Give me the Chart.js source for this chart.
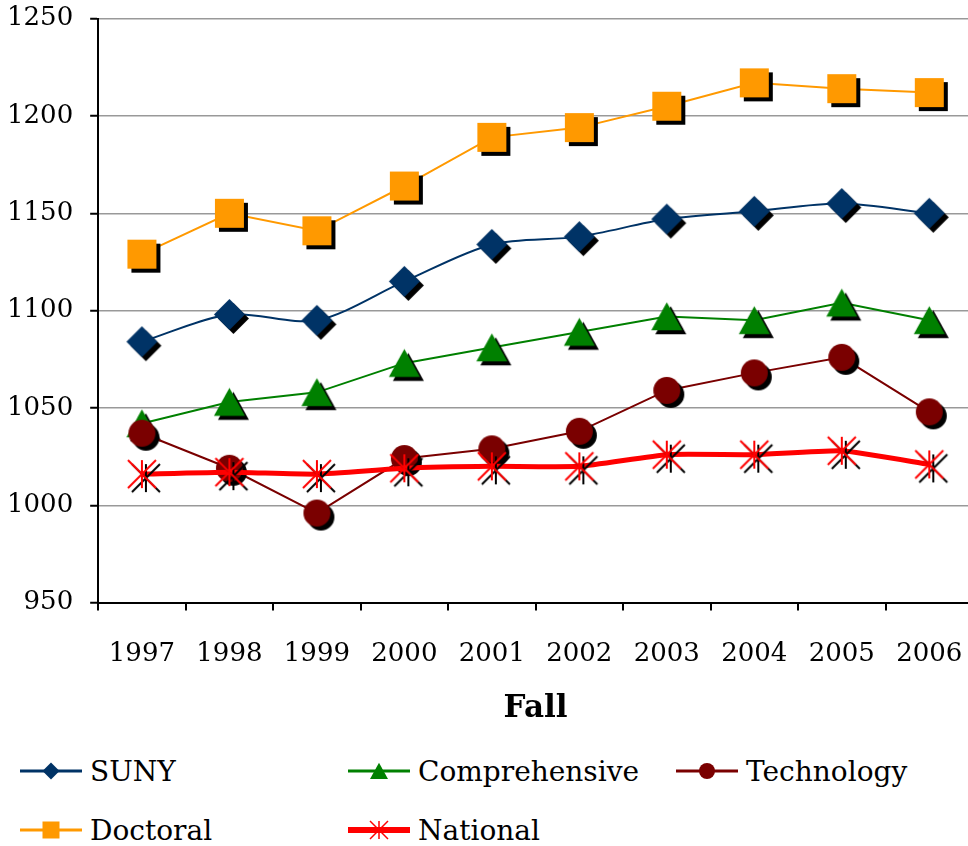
<!DOCTYPE html>
<html>
<head>
<meta charset="utf-8">
<script src="https://cdn.jsdelivr.net/npm/chart.js@4"></script>
<style>
  html, body { margin: 0; padding: 0; background: #fff; }
  #wrap { position: relative; width: 968px; height: 846px; overflow: hidden; }
  #chartBox { position: absolute; left: -14px; top: -14px; width: 1007px; height: 752px; }
  .leg { position: absolute; height: 40px; display: flex; align-items: center;
         font-family: 'DejaVu Serif', 'Liberation Serif', serif; font-size: 28px; color: #000; }
  .leg canvas { margin-right: 8px; }
</style>
</head>
<body>
<div id="wrap">
  <div id="chartBox"><canvas id="chart"></canvas></div>
  <div id="legend"></div>
</div>
<script>
// Fall enrollment-type index values
const years = ['1997', '1998', '1999', '2000', '2001', '2002', '2003', '2004', '2005', '2006'];
const suny          = [1084, 1098, 1095, 1115, 1134, 1138, 1147, 1151, 1155, 1150];
const comprehensive = [1042, 1053, 1058, 1073, 1081, 1089, 1097, 1095, 1104, 1095];
const technology    = [1037, 1019,  996, 1024, 1029, 1038, 1059, 1068, 1076, 1048];
const doctoral      = [1129, 1150, 1141, 1164, 1189, 1194, 1205, 1217, 1214, 1212];
const national      = [1016, 1017, 1016, 1019, 1020, 1020, 1026, 1026, 1028, 1021];
const yTicks = [950, 1000, 1050, 1100, 1150, 1200, 1250];

const FONT = "'DejaVu Serif', 'Liberation Serif', serif";

// draw one marker shape onto a 2d context
function drawShape(g, shape, x, y, size, color) {
    const h = size / 2;
    g.fillStyle = color;
    g.strokeStyle = color;
    g.beginPath();
    if (shape === 'diamond') {
        g.moveTo(x, y - h); g.lineTo(x + h, y); g.lineTo(x, y + h); g.lineTo(x - h, y);
        g.closePath(); g.fill();
    } else if (shape === 'square') {
        g.fillRect(x - h, y - h, size, size);
    } else if (shape === 'triangle') {
        g.moveTo(x, y - h * 0.92); g.lineTo(x + h, y + h * 0.88); g.lineTo(x - h, y + h * 0.88);
        g.closePath(); g.fill();
    } else if (shape === 'circle') {
        g.arc(x, y, h, 0, Math.PI * 2); g.fill();
    } else if (shape === 'star') {
        g.lineWidth = Math.max(1.5, size / 14);
        g.moveTo(x, y - h); g.lineTo(x, y + h);
        g.moveTo(x - h, y - h); g.lineTo(x + h, y + h);
        g.moveTo(x + h, y - h); g.lineTo(x - h, y + h);
        g.stroke();
    }
}

// marker image with a hard black drop shadow, centred on the data point
function markerCanvas(shape, color, size, shadow) {
    const off = shadow ? 4 : 0;
    const dim = Math.ceil(size + 2 * off + 4);
    const c = document.createElement('canvas');
    c.width = c.height = dim;
    const g = c.getContext('2d');
    const m = dim / 2;
    if (shadow) drawShape(g, shape, m + off, m + off, size, '#000');
    drawShape(g, shape, m, m, size, color);
    return c;
}

const series = [
    { label: 'SUNY', data: suny, color: '#003366', shape: 'diamond', size: 31, width: 2, tension: 0.3, order: 5 },
    { label: 'Comprehensive', data: comprehensive, color: '#008000', shape: 'triangle', size: 31, width: 2, tension: 0, order: 4 },
    { label: 'Technology', data: technology, color: '#7A0000', shape: 'circle', size: 27, width: 2, tension: 0, order: 3 },
    { label: 'Doctoral', data: doctoral, color: '#FF9900', shape: 'square', size: 29, width: 2, tension: 0, order: 2 },
    { label: 'National', data: national, color: '#FF0000', shape: 'star', size: 28, width: 5, tension: 0.15, order: 1 }
];

const datasets = series.map(s => ({
    label: s.label,
    data: s.data,
    borderColor: s.color,
    backgroundColor: s.color,
    borderWidth: s.width,
    tension: s.tension,
    order: s.order,
    pointStyle: markerCanvas(s.shape, s.color, s.size, true),
    pointRadius: 15,
    pointHoverRadius: 15
}));

new Chart(document.getElementById('chart'), {
    type: 'line',
    data: { labels: years, datasets: datasets },
    options: {
        responsive: true,
        maintainAspectRatio: false,
        animation: false,
        layout: { padding: { left: 4, right: 0, top: 0, bottom: 6 } },
        plugins: {
            legend: { display: false },
            tooltip: { enabled: false }
        },
        scales: {
            x: {
                offset: true,
                grid: { offset: true, drawOnChartArea: false, drawTicks: true, tickLength: 8, color: '#000', lineWidth: 2 },
                border: { color: '#000', width: 2 },
                ticks: { color: '#000', font: { family: FONT, size: 26 }, padding: 28, maxRotation: 0 },
                title: { display: true, text: 'Fall', color: '#000', font: { family: FONT, size: 31, weight: 'bold' }, padding: { top: -7, bottom: 4 } }
            },
            y: {
                min: yTicks[0],
                max: yTicks[yTicks.length - 1],
                afterBuildTicks: axis => { axis.ticks = yTicks.map(v => ({ value: v })); },
                grid: { color: '#999', lineWidth: 1.5, tickLength: 8, tickColor: '#000', tickWidth: 2 },
                border: { color: '#000', width: 2 },
                ticks: { color: '#000', font: { family: FONT, size: 26 }, padding: 17, callback: v => String(v) }
            }
        }
    }
});

// HTML legend, Excel style: short line with the marker in the middle
const legendPos = [[20, 751], [348, 751], [676, 751], [20, 810], [348, 810]];
const legendSizes = { diamond: 17, triangle: 18, circle: 16, square: 17, star: 18 };
const legendEl = document.getElementById('legend');
series.forEach((s, i) => {
    const item = document.createElement('div');
    item.className = 'leg';
    item.style.left = legendPos[i][0] + 'px';
    item.style.top = legendPos[i][1] + 'px';
    const c = document.createElement('canvas');
    c.width = 62; c.height = 40;
    const g = c.getContext('2d');
    g.strokeStyle = s.color;
    g.lineWidth = s.width + 1;
    g.beginPath(); g.moveTo(0, 20); g.lineTo(62, 20); g.stroke();
    drawShape(g, s.shape, 31, 20, legendSizes[s.shape], s.color);
    item.appendChild(c);
    item.appendChild(document.createTextNode(s.label));
    legendEl.appendChild(item);
});
</script>
</body>
</html>
